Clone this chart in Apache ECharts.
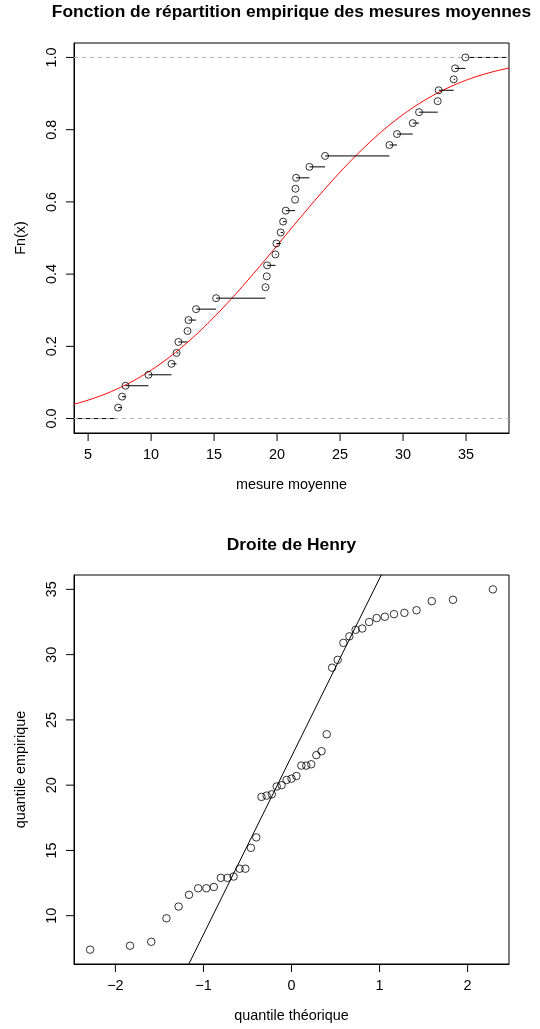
<!DOCTYPE html>
<html>
<head>
<meta charset="utf-8">
<script src="https://cdn.jsdelivr.net/npm/echarts@6/dist/echarts.min.js"></script>
<style>html,body{margin:0;padding:0;background:#fff;}#c{width:540px;height:1029px;}</style>
</head>
<body>
<div id="c"></div>
<script>
// ---- Data: empirical CDF of the mean measures ----
var ecdfX = [7.38, 7.70, 7.97, 9.79, 11.62, 12.02, 12.17, 12.89, 12.97, 13.57, 15.16,
  19.08, 19.18, 19.21, 19.87, 19.95, 20.29, 20.48, 20.69, 21.43, 21.46, 21.51,
  22.57, 23.81, 28.92, 29.52, 30.77, 31.27, 32.75, 32.83, 34.02, 34.13, 34.95];
var ecdfY = [1,2,3,4,5,6,7,8,9,10,11,12,13,14,15,16,17,18,19,20,21,22,23,24,25,26,27,28,29,30,31,32,33]
  .map(function (k) { return k / 33; });
// fitted normal curve parameters (red curve)
var normMean = 20.5;
var normSd = 9.48;
// tick labels
var ecdfXTicks = [5, 10, 15, 20, 25, 30, 35];
var ecdfYTicks = [0, 0.2, 0.4, 0.6, 0.8, 1.0];

// ---- Data: Henry line (normal QQ plot) ----
var qqTheo = [-2.287, -1.834, -1.593, -1.420, -1.282, -1.164, -1.060, -0.967, -0.882, -0.803,
  -0.728, -0.657, -0.589, -0.524, -0.461, -0.400, -0.341, -0.282, -0.224, -0.168, -0.112, -0.056,
  0, 0.056, 0.112, 0.168, 0.224, 0.282, 0.341, 0.400, 0.461, 0.524, 0.589, 0.657, 0.728, 0.803,
  0.882, 0.967, 1.060, 1.164, 1.282, 1.420, 1.593, 1.834, 2.287];
var qqSample = [7.4, 7.7, 8.0, 9.8, 10.7, 11.6, 12.1, 12.1, 12.2, 12.9, 12.9, 13.0, 13.6, 13.6,
  15.2, 16.0, 19.1, 19.2, 19.3, 19.9, 20.0, 20.4, 20.5, 20.7, 21.5, 21.5, 21.6, 22.3, 22.6, 23.9,
  29.0, 29.6, 30.9, 31.4, 31.9, 32.0, 32.5, 32.8, 32.9, 33.1, 33.2, 33.4, 34.1, 34.2, 35.0];
var qqIntercept = 22.2;
var qqSlope = 13.64;
var qqXTicks = [-2, -1, 0, 1, 2];
var qqYTicks = [10, 15, 20, 25, 30, 35];

// axis ranges
var ax1 = {xmin: 3.88, xmax: 38.41, ymin: -0.04, ymax: 1.04};
var ax2 = {xmin: -2.47, xmax: 2.47, ymin: 6.3, ymax: 36.1};

// ---- helpers ----
function erf(x) {
  var s = x < 0 ? -1 : 1; x = Math.abs(x);
  var t = 1 / (1 + 0.3275911 * x);
  var y = 1 - (((((1.061405429 * t - 1.453152027) * t) + 1.421413741) * t - 0.284496736) * t + 0.254829592) * t * Math.exp(-x * x);
  return s * y;
}
function pnorm(x, m, s) { return 0.5 * (1 + erf((x - m) / (s * Math.SQRT2))); }

var curve = [];
for (var i = 0; i <= 300; i++) {
  var xx = ax1.xmin + (ax1.xmax - ax1.xmin) * i / 300;
  curve.push([xx, pnorm(xx, normMean, normSd)]);
}
var steps = [[ax1.xmin, ecdfX[0], 0]];
for (var j = 0; j < ecdfX.length; j++) {
  steps.push([ecdfX[j], j + 1 < ecdfX.length ? ecdfX[j + 1] : ax1.xmax, ecdfY[j]]);
}
var ecdfPts = ecdfX.map(function (v, k) { return [v, ecdfY[k]]; });
var qqPts = qqTheo.map(function (v, k) { return [v, qqSample[k]]; });
var qqLine = [[ax2.xmin, qqIntercept + qqSlope * ax2.xmin], [ax2.xmax, qqIntercept + qqSlope * ax2.xmax]];

var FONT = 'Liberation Sans, Arial, Helvetica, sans-serif';
var LBL = 14.4;
var TICK = 8;
function minus(v) { return String(v).replace('-', '\u2212'); }

function xAxisCfg(gi, r, ticks, name, fmt) {
  return {
    type: 'value', gridIndex: gi, min: r.xmin, max: r.xmax, position: 'bottom',
    name: name, nameLocation: 'middle', nameGap: 45,
    nameTextStyle: {color: '#000', fontFamily: FONT, fontSize: LBL},
    axisLine: {show: true, onZero: false, lineStyle: {color: '#000', width: 1}},
    axisTick: {show: false},
    axisLabel: {show: true, customValues: ticks, margin: 15, color: '#000', fontFamily: FONT, fontSize: LBL, formatter: fmt},
    splitLine: {show: false}
  };
}
function yAxisCfg(gi, r, ticks, name, fmt) {
  return {
    type: 'value', gridIndex: gi, min: r.ymin, max: r.ymax, position: 'left',
    name: name, nameLocation: 'middle', nameGap: 46,
    nameTextStyle: {color: '#000', fontFamily: FONT, fontSize: LBL},
    axisLine: {show: true, onZero: false, lineStyle: {color: '#000', width: 1}},
    axisTick: {show: false},
    axisLabel: {show: true, customValues: ticks, margin: 15, rotate: 90, color: '#000', fontFamily: FONT, fontSize: LBL, formatter: fmt},
    splitLine: {show: false}
  };
}

var chart = echarts.init(document.getElementById('c'), null, {renderer: 'canvas'});
chart.setOption({
  animation: false,
  title: [
    {text: 'Fonction de répartition empirique des mesures moyennes', left: 291.5, top: 4, textAlign: 'center', padding: 0,
      textStyle: {fontFamily: FONT, fontSize: 17.4, fontWeight: 'bold', color: '#000'}},
    {text: 'Droite de Henry', left: 291.5, top: 537, textAlign: 'center', padding: 0,
      textStyle: {fontFamily: FONT, fontSize: 17.4, fontWeight: 'bold', color: '#000'}}
  ],
  grid: [
    {left: 74, right: 31, top: 43, height: 390, show: true, borderColor: '#000', borderWidth: 1},
    {left: 74, right: 31, top: 575, height: 389, show: true, borderColor: '#000', borderWidth: 1}
  ],
  xAxis: [
    xAxisCfg(0, ax1, ecdfXTicks, 'mesure moyenne', function (v) { return String(v); }),
    xAxisCfg(1, ax2, qqXTicks, 'quantile théorique', minus)
  ],
  yAxis: [
    yAxisCfg(0, ax1, ecdfYTicks, 'Fn(x)', function (v) { return v.toFixed(1); }),
    yAxisCfg(1, ax2, qqYTicks, 'quantile empirique', function (v) { return String(v); })
  ],
  series: [
    {
      type: 'line', xAxisIndex: 0, yAxisIndex: 0, data: curve, showSymbol: false, symbol: 'none',
      lineStyle: {color: '#ff0000', width: 1}, clip: true, z: 3, silent: true,
      markLine: {
        silent: true, symbol: ['none', 'none'], label: {show: false},
        lineStyle: {color: '#b3b3b3', type: [4, 4], width: 1},
        data: [{yAxis: 0}, {yAxis: 1}]
      }
    },
    {
      type: 'custom', xAxisIndex: 0, yAxisIndex: 0, data: steps, clip: true, z: 4, silent: true,
      encode: {x: [0, 1], y: 2},
      renderItem: function (params, api) {
        var p1 = api.coord([api.value(0), api.value(2)]);
        var p2 = api.coord([api.value(1), api.value(2)]);
        return {type: 'line', shape: {x1: p1[0], y1: p1[1], x2: p2[0], y2: p2[1]}, style: {stroke: '#000', lineWidth: 1}};
      }
    },
    {
      type: 'scatter', xAxisIndex: 0, yAxisIndex: 0, data: ecdfPts, symbol: 'circle', symbolSize: 7, z: 5, silent: true,
      itemStyle: {color: 'rgba(0,0,0,0)', borderColor: '#000', borderWidth: 1}
    },
    {
      type: 'line', xAxisIndex: 1, yAxisIndex: 1, data: qqLine, showSymbol: false, symbol: 'none',
      lineStyle: {color: '#000', width: 1}, clip: true, z: 3, silent: true
    },
    {
      type: 'scatter', xAxisIndex: 1, yAxisIndex: 1, data: qqPts, symbol: 'circle', symbolSize: 7.5, z: 5, silent: true,
      itemStyle: {color: 'rgba(0,0,0,0)', borderColor: '#000', borderWidth: 1}
    }
  ]
});

// outward R-style tick marks, positioned through the chart's own axis scales
var tickEls = [];
function addTicks(gi, r, xt, yt) {
  xt.forEach(function (v) {
    var p = chart.convertToPixel({gridIndex: gi}, [v, r.ymin]);
    tickEls.push({type: 'line', silent: true, z: 100,
      shape: {x1: p[0], y1: p[1], x2: p[0], y2: p[1] + TICK}, style: {stroke: '#000', lineWidth: 1}});
  });
  yt.forEach(function (v) {
    var p = chart.convertToPixel({gridIndex: gi}, [r.xmin, v]);
    tickEls.push({type: 'line', silent: true, z: 100,
      shape: {x1: p[0], y1: p[1], x2: p[0] - TICK, y2: p[1]}, style: {stroke: '#000', lineWidth: 1}});
  });
}
addTicks(0, ax1, ecdfXTicks, ecdfYTicks);
addTicks(1, ax2, qqXTicks, qqYTicks);
chart.setOption({graphic: tickEls});
</script>
</body>
</html>
